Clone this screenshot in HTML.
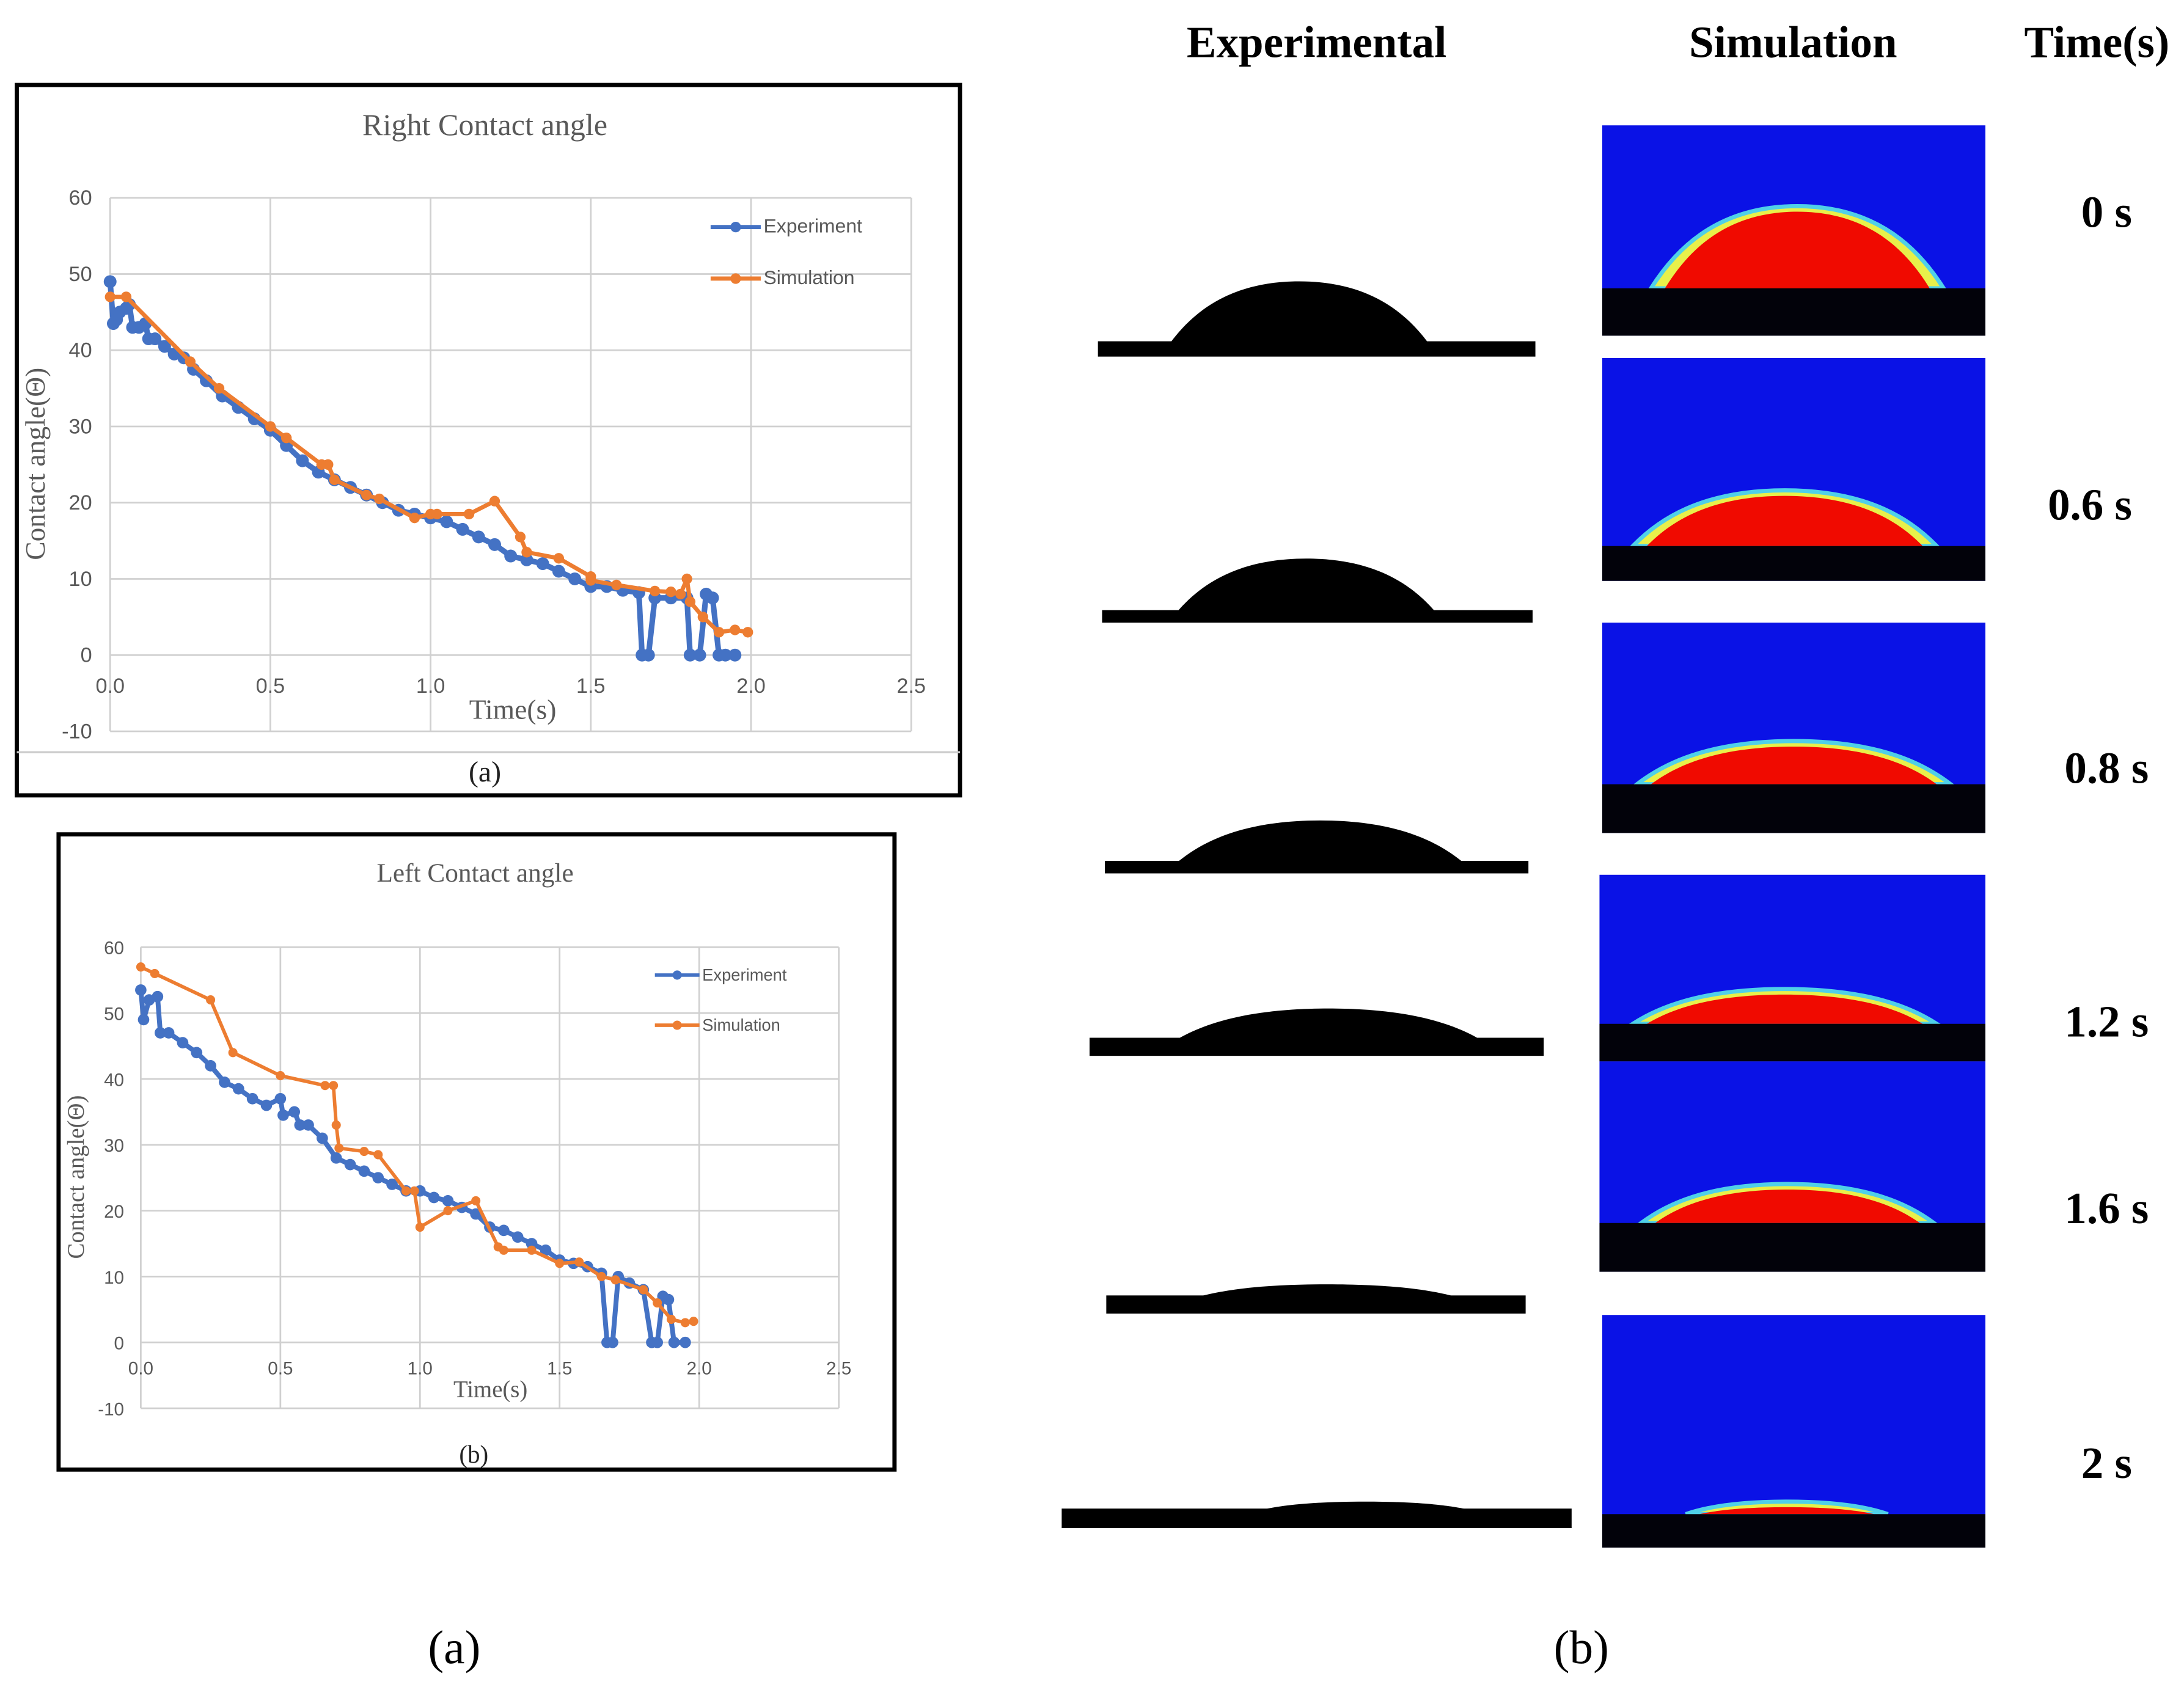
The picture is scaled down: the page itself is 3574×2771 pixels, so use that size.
<!DOCTYPE html>
<html><head><meta charset="utf-8"><style>
html,body{margin:0;padding:0;background:#fff}
svg{display:block}
.tk{font-family:"Liberation Sans Narrow","Liberation Sans",sans-serif;fill:#595959}
.sf{font-family:"Liberation Serif",serif;fill:#595959}
.hd{font-family:"Liberation Serif",serif;font-weight:bold;fill:#000}
</style></head><body>
<svg id="fig" width="3574" height="2771" viewBox="0 0 1567.5 1215.4" xmlns="http://www.w3.org/2000/svg">
<rect width="1567.5" height="1215.4" fill="#fff"/>
<g id="charts"></g>
<g id="panel"></g>
<text class="hd" x="945" y="41" font-size="32" text-anchor="middle">Experimental</text>
<text class="hd" x="1287" y="41" font-size="32" text-anchor="middle">Simulation</text>
<text class="hd" x="1505" y="41" font-size="32" text-anchor="middle">Time(s)</text>
<text x="326" y="1194" font-family="Liberation Serif,serif" font-size="34" text-anchor="middle">(a)</text>
<text x="1135" y="1194" font-family="Liberation Serif,serif" font-size="34" text-anchor="middle">(b)</text>
</svg>
<script>
// Right contact angle data
const rExpT=[0,0.01,0.02,0.03,0.05,0.06,0.07,0.09,0.11,0.12,0.14,0.17,0.2,0.23,0.26,0.3,0.35,0.4,0.45,0.5,0.55,0.6,0.65,0.7,0.75,0.8,0.85,0.9,0.95,1.0,1.05,1.1,1.15,1.2,1.25,1.3,1.35,1.4,1.45,1.5,1.55,1.6,1.65,1.66,1.68,1.7,1.75,1.8,1.81,1.84,1.86,1.88,1.9,1.92,1.95];
const rExpV=[49,43.5,44,45,45.5,46,43,43,43.5,41.5,41.5,40.5,39.5,39,37.5,36,34,32.5,31,29.5,27.5,25.5,24,23,22,21,20,19,18.5,18,17.5,16.5,15.5,14.5,13,12.5,12,11,10,9,9,8.5,8.2,0,0,7.5,7.5,7.5,0,0,8,7.5,0,0,0];
const rSimT=[0,0.05,0.25,0.34,0.5,0.55,0.66,0.68,0.7,0.8,0.84,0.95,1.0,1.02,1.12,1.2,1.28,1.3,1.4,1.5,1.5,1.58,1.7,1.75,1.78,1.8,1.81,1.85,1.9,1.95,1.99];
const rSimV=[47,47,38.5,35,30,28.5,25,25,23,21,20.5,18,18.5,18.5,18.5,20.2,15.5,13.5,12.7,10.3,9.8,9.2,8.4,8.3,8,10,7,5,3,3.3,3];
// Left contact angle data
const lExpT=[0,0.01,0.03,0.06,0.07,0.1,0.15,0.2,0.25,0.3,0.35,0.4,0.45,0.5,0.51,0.55,0.57,0.6,0.65,0.7,0.75,0.8,0.85,0.9,0.95,1.0,1.05,1.1,1.15,1.2,1.25,1.3,1.35,1.4,1.45,1.5,1.55,1.6,1.65,1.67,1.69,1.71,1.75,1.8,1.83,1.85,1.87,1.89,1.91,1.95];
const lExpV=[53.5,49,52,52.5,47,47,45.5,44,42,39.5,38.5,37,36,37,34.5,35,33,33,31,28,27,26,25,24,23,23,22,21.5,20.5,19.5,17.5,17,16,15,14,12.5,12,11.5,10.5,0,0,10,9,8,0,0,7,6.5,0,0];
const lSimT=[0,0.05,0.25,0.33,0.5,0.66,0.69,0.7,0.71,0.8,0.85,0.95,0.98,1.0,1.1,1.2,1.28,1.3,1.4,1.5,1.57,1.65,1.7,1.8,1.85,1.9,1.95,1.98];
const lSimV=[57,56,52,44,40.5,39,39,33,29.5,29,28.5,23,23,17.5,20,21.5,14.5,14,14,12,12.2,10,9.5,8,6,3.5,3,3.2];
const xTicks=["0.0","0.5","1.0","1.5","2.0","2.5"];
const yTicks=["-10","0","10","20","30","40","50","60"];

const NS="http://www.w3.org/2000/svg";
function mk(tag,attrs,parent){const e=document.createElementNS(NS,tag);for(const k in attrs)e.setAttribute(k,attrs[k]);parent.appendChild(e);return e;}

function chart(c){
  const g=mk('g',{},document.getElementById('charts'));
  
  
  const fr=mk('rect',{x:c.fx,y:c.fy,width:c.fw,height:c.fh,fill:'#fff',stroke:'#000','stroke-width':3},g);
  
  
  const sx=t=>c.x0+(c.x1-c.x0)*t/2.5;
  const sy=v=>c.y1+(c.y0-c.y1)*(v+10)/70;
  xTicks.forEach(t=>{const x=sx(+t);
    const l=mk('line',{x1:x,x2:x,y1:sy(60),y2:sy(-10),stroke:'#d0d0d0','stroke-width':1.2},g);
    
    const tx=mk('text',{x:x,y:sy(0)+c.tickDy,'text-anchor':'middle',class:'tk','font-size':c.tfs},g);
    tx.textContent=t;
    
  });
  yTicks.forEach(t=>{const y=sy(+t);
    const l=mk('line',{x1:sx(0),x2:sx(2.5),y1:y,y2:y,stroke:'#d0d0d0','stroke-width':1.2},g);
    
    const tx=mk('text',{x:sx(0)-c.tickDx,y:y+5,'text-anchor':'end',class:'tk','font-size':c.tfs},g);
    tx.textContent=t;
    
  });
  if(c.sepY){const s=mk('line',{x1:c.fx,x2:c.fx+c.fw,y1:c.sepY,y2:c.sepY,stroke:'#ccc','stroke-width':1.5},g);
    }
  const series=[[c.eT,c.eV,'#4472c4','experiment-series',c.lw+1,c.mr+0.8],[c.sT,c.sV,'#ed7d31','simulation-series',c.lw,c.mr]];
  series.forEach(([T,V,col,nm,lw,mr])=>{
    const sg=mk('g',{},g);
    
    const p=mk('polyline',{points:T.map((t,i)=>sx(t)+','+sy(V[i])).join(' '),fill:'none',stroke:col,'stroke-width':lw,'stroke-linejoin':'round'},sg);
    
    T.forEach((t,i)=>{const m=mk('circle',{cx:sx(t),cy:sy(V[i]),r:mr,fill:col},sg);
      });
  });
  const ttl=mk('text',{x:c.tx,y:c.ty,'text-anchor':'middle',class:'sf','font-size':c.tts},g);
  ttl.textContent=c.title;
  const xt=mk('text',{x:c.xtx,y:c.xty,'text-anchor':'middle',class:'sf','font-size':c.afs},g);
  xt.textContent='Time(s)';
  const yt=mk('text',{x:0,y:0,'text-anchor':'middle',class:'sf','font-size':c.afs,transform:`translate(${c.ytx},${c.yty}) rotate(-90)`},g);
  yt.textContent='Contact angle(Θ)';
  [['Experiment','#4472c4',c.lgy1],['Simulation','#ed7d31',c.lgy2]].forEach(([n,col,y])=>{
    const lg=mk('g',{},g);
    mk('line',{x1:c.lgx,x2:c.lgx+c.lgw,y1:y,y2:y,stroke:col,'stroke-width':c.lw},lg);
    mk('circle',{cx:c.lgx+c.lgw/2,cy:y,r:c.mr,fill:col},lg);
    const t=mk('text',{x:c.lgx+c.lgw+2,y:y+4,class:'tk','font-size':c.lfs},lg);t.textContent=n;
  });
  const cap=mk('text',{x:c.capx,y:c.capy,'text-anchor':'middle','font-family':'Liberation Serif,serif','font-size':c.capfs,fill:'#222'},g);
  cap.textContent=c.cap;
}
chart({name:'right-contact-angle-chart',fx:12,fy:61,fw:677,fh:510,x0:79,x1:654,y0:142,y1:525,tickDy:27,tickDx:13,tfs:15,
  eT:rExpT,eV:rExpV,sT:rSimT,sV:rSimV,lw:3,mr:3.8,title:'Right Contact angle',tx:348,ty:97,tts:22,
  xtx:368,xty:516,afs:20,ytx:32,yty:333,lgx:510,lgw:36,lgy1:163,lgy2:200,lfs:14,sepY:540,cap:'(a)',capx:348,capy:561,capfs:21});
chart({name:'left-contact-angle-chart',fx:42,fy:599,fw:600,fh:456,x0:101,x1:602,y0:680,y1:1011,tickDy:23,tickDx:12,tfs:13,
  eT:lExpT,eV:lExpV,sT:lSimT,sV:lSimV,lw:2.5,mr:3.3,title:'Left Contact angle',tx:341,ty:633,tts:19,
  xtx:352,xty:1003,afs:17,ytx:60,yty:845,lgx:470,lgw:32,lgy1:700,lgy2:736,lfs:12,sepY:0,cap:'(b)',capx:340,capy:1050,capfs:18});

// Panel (b)
const panel=document.getElementById('panel');
const simRows=[[90,241,207,1185,1395,148],[257,417,392,1172,1390,352],[447,598,563,1175,1400,532],[628,762,735,1172,1390,710],[762,913,878,1178,1388,850],[944,1111,1087,1210,1355,1078]];
const expRows=[[245,256,788,1102,840,1025,202],[438,447,791,1100,845,1030,401],[618,627,793,1097,845,1050,589],[745,758,782,1108,845,1062,724],[930,943,794,1095,860,1045,922],[1083,1097,762,1128,905,1055,1078]];
const times=[["0 s",1512,163],["0.6 s",1500,373],["0.8 s",1512,562],["1.2 s",1512,744],["1.6 s",1512,878],["2 s",1512,1061]];
function dome(x0,x1,b,top){const w=x1-x0,cx=(x0+x1)/2,h=b-top;
  return `M${x0},${b} C${x0+w*0.08},${b-h*0.45} ${x0+w*0.22},${top} ${cx},${top} C${x1-w*0.22},${top} ${x1-w*0.08},${b-h*0.45} ${x1},${b} Z`;}
simRows.forEach((r,i)=>{const [t,b,s,dx0,dx1,top]=r;
  const g=mk('g',{},panel);
  const x0=i==4||i==3?1148:1150, x1=1425;
  mk('rect',{x:x0,y:t,width:x1-x0,height:b-t,fill:'#0a12e6'},g);
  mk('path',{d:dome(dx0,dx1,s,top),fill:'#e8f04a',stroke:'#4fd0e8','stroke-width':3},g);
  mk('path',{d:dome(dx0+10,dx1-10,s,top+4),fill:'#f00a00'},g);
  mk('rect',{x:x0,y:s,width:x1-x0,height:b-s,fill:'#02020a'},g);
});
expRows.forEach((r,i)=>{const [bt,bb,x0,x1,d0,d1,top]=r;
  const g=mk('g',{},panel);
  mk('path',{d:dome(d0,d1,bt+1,top),fill:'#000'},g);
  mk('rect',{x:x0,y:bt,width:x1-x0,height:bb-bt,fill:'#000'},g);
});
times.forEach(([s,x,y])=>{const t=mk('text',{x:x,y:y,'text-anchor':'middle',class:'hd','font-size':32},panel);
  t.textContent=s;});
</script>
</body></html>
